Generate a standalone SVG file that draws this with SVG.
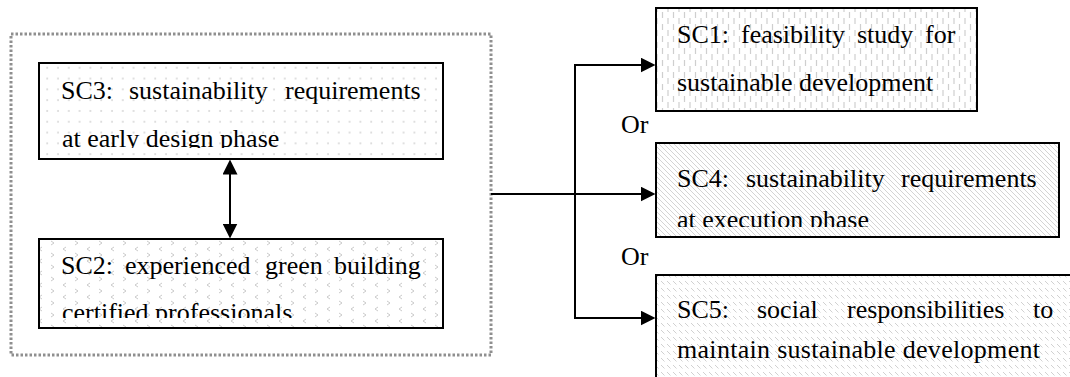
<svg xmlns="http://www.w3.org/2000/svg" width="1070" height="377" viewBox="0 0 1070 377">
  <style>
    .box { stroke: #000; stroke-width: 2; }
    .txt { font-family: "Liberation Serif", Tinos, "Times New Roman", Times, "DejaVu Serif", serif; font-size: 26px; fill: #000; }
    .link { stroke: #000; stroke-width: 2; fill: none; }
    .group { fill: none; stroke: #8f8f8f; stroke-width: 3; stroke-dasharray: 2.5 2; }
  </style>
  <defs>
    <!-- fill textures for the five boxes -->
    <pattern id="dots" width="10.8" height="10.8" patternUnits="userSpaceOnUse">
      <rect width="10.8" height="10.8" fill="#fff"/>
      <circle cx="4" cy="3" r="0.8" fill="#b8b8b8"/>
    </pattern>
    <pattern id="chevrons" width="24" height="12" patternUnits="userSpaceOnUse">
      <rect width="24" height="12" fill="#fff"/>
      <path d="M3,1 L6,3 L3,5 M18,7 L15,9 L18,11" stroke="#c4c4c4" stroke-width="0.9" fill="none"/>
    </pattern>
    <pattern id="vdash" width="11" height="12" patternUnits="userSpaceOnUse">
      <rect width="11" height="12" fill="#fff"/>
      <path d="M2.5,0 V6 M8,6 V12" stroke="#cfcfcf" stroke-width="1.2"/>
    </pattern>
    <pattern id="hatch" width="5" height="5" patternUnits="userSpaceOnUse">
      <rect width="5" height="5" fill="#fff"/>
      <path d="M0,0 L5,5 M-1,4 L1,6 M4,-1 L6,1" stroke="#cfcfcf" stroke-width="0.9"/>
    </pattern>
    <pattern id="dhatch" width="6" height="7" patternUnits="userSpaceOnUse">
      <rect width="6" height="7" fill="#fff"/>
      <path d="M1,1 L4.5,4.5" stroke="#cccccc" stroke-width="0.9"/>
    </pattern>
    <marker id="head" markerUnits="userSpaceOnUse" markerWidth="15" markerHeight="15" refX="0.5" refY="7.5" orient="auto-start-reverse">
      <path d="M0,0 L15,7.5 L0,15 Z" fill="#000"/>
    </marker>
    <clipPath id="clip-sc3"><rect x="39" y="63" width="404" height="85"/></clipPath>
    <clipPath id="clip-sc2"><rect x="39" y="239" width="404" height="79"/></clipPath>
    <clipPath id="clip-sc4"><rect x="656" y="143" width="403" height="84"/></clipPath>
  </defs>

  <rect width="1070" height="377" fill="#fff"/>

  <!-- dotted grouping frame around SC3 and SC2 -->
  <rect id="group-frame" class="group" x="11" y="34" width="480" height="321"/>

  <g id="sc3">
    <rect class="box" x="39" y="63" width="404" height="96" fill="url(#dots)"/>
    <g clip-path="url(#clip-sc3)">
      <text class="txt" y="99"><tspan x="61">SC3:</tspan><tspan x="129">sustainability</tspan><tspan x="285">requirements</tspan></text>
      <text class="txt" x="62" y="147">at early design phase</text>
    </g>
  </g>

  <g id="sc2">
    <rect class="box" x="39" y="239" width="404" height="89" fill="url(#chevrons)"/>
    <g clip-path="url(#clip-sc2)">
      <text class="txt" y="274"><tspan x="61">SC2:</tspan><tspan x="125">experienced</tspan><tspan x="265">green</tspan><tspan x="334">building</tspan></text>
      <text class="txt" x="62" y="321">certified professionals</text>
    </g>
  </g>

  <g id="sc1">
    <rect class="box" x="656" y="8" width="321" height="103" fill="url(#vdash)"/>
    <text class="txt" y="43"><tspan x="677">SC1:</tspan><tspan x="741">feasibility</tspan><tspan x="857">study</tspan><tspan x="925">for</tspan></text>
    <text class="txt" x="677" y="91">sustainable development</text>
  </g>

  <g id="sc4">
    <rect class="box" x="656" y="143" width="403" height="94" fill="url(#hatch)"/>
    <g clip-path="url(#clip-sc4)">
      <text class="txt" y="187"><tspan x="677">SC4:</tspan><tspan x="746">sustainability</tspan><tspan x="901">requirements</tspan></text>
      <text class="txt" x="677" y="228">at execution phase</text>
    </g>
  </g>

  <g id="sc5">
    <rect class="box" x="656" y="275" width="430" height="120" fill="url(#dhatch)"/>
    <text class="txt" y="318"><tspan x="677">SC5:</tspan><tspan x="757">social</tspan><tspan x="847">responsibilities</tspan><tspan x="1033">to</tspan></text>
    <text class="txt" x="677" y="358" textLength="363" lengthAdjust="spacing">maintain sustainable development</text>
  </g>

  <g id="or-labels">
    <text class="txt" x="621" y="133">Or</text>
    <text class="txt" x="621" y="265">Or</text>
  </g>

  <g id="connectors">
    <!-- SC3 <-> SC2 -->
    <line class="link" x1="230" y1="174" x2="230" y2="224" marker-start="url(#head)" marker-end="url(#head)"/>
    <!-- frame to the three alternatives -->
    <line class="link" x1="491" y1="194" x2="641" y2="194" marker-end="url(#head)"/>
    <line class="link" x1="575" y1="64" x2="575" y2="319"/>
    <line class="link" x1="574" y1="65" x2="641" y2="65" marker-end="url(#head)"/>
    <line class="link" x1="574" y1="318" x2="641" y2="318" marker-end="url(#head)"/>
  </g>
</svg>
